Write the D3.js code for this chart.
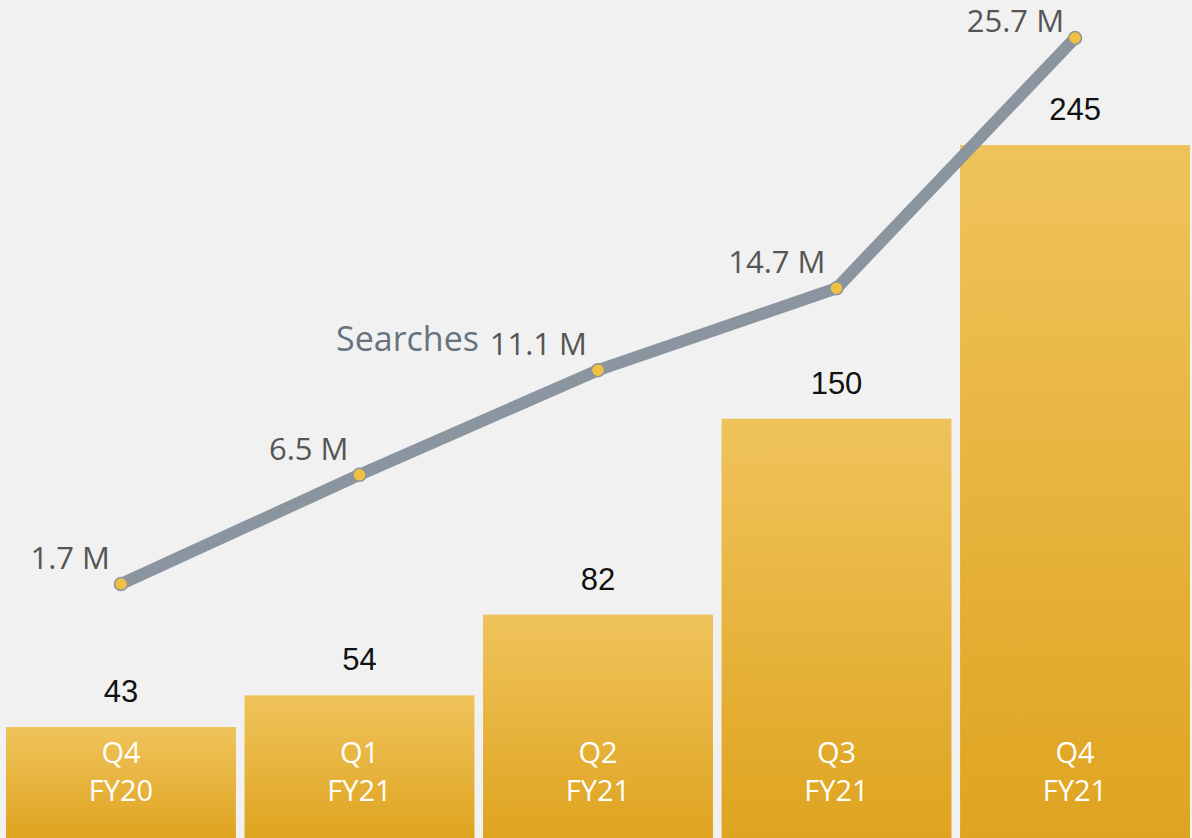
<!DOCTYPE html>
<html>
<head>
<meta charset="utf-8">
<script src="https://cdn.jsdelivr.net/npm/d3@7"></script>
<style>
  html, body { margin: 0; padding: 0; background: #f1f1f1; }
  svg { display: block; }
</style>
</head>
<body>
<div id="chart"></div>
<script>
// Quarterly results: bars = customers (count), line = searches (millions)
const quarters = ["Q4", "Q1", "Q2", "Q3", "Q4"];
const fiscalYears = ["FY20", "FY21", "FY21", "FY21", "FY21"];
const barValues = [43, 54, 82, 150, 245];
const searchValues = [1.7, 6.5, 11.1, 14.7, 25.7];
const searchLabels = ["1.7 M", "6.5 M", "11.1 M", "14.7 M", "25.7 M"];
const seriesName = "Searches";

const W = 1192, H = 838;
const svg = d3.select("#chart").append("svg")
  .attr("width", W).attr("height", H);

svg.append("rect").attr("width", W).attr("height", H).attr("fill", "#f1f1f1");

const ids = d3.range(quarters.length);
const x = d3.scaleBand().domain(ids).range([6, 1190]).paddingInner(0.036).paddingOuter(0);
// bar baseline sits just below the visible area
const yBar = d3.scaleLinear().domain([0, 250]).range([850.9, 130.65]);
const yLine = d3.scaleLinear().domain([0, 27]).range([622.7, 8.45]);

// vertical gold gradient, one per bar (bounding-box units)
const defs = svg.append("defs");
const grad = defs.append("linearGradient").attr("id", "gold")
  .attr("x1", 0).attr("y1", 0).attr("x2", 0).attr("y2", 1);
grad.append("stop").attr("offset", "0%").attr("stop-color", "#efc35b");
grad.append("stop").attr("offset", "100%").attr("stop-color", "#dfa420");

// bars run off the bottom edge
svg.append("g").selectAll("rect").data(ids).join("rect")
  .attr("x", i => x(i))
  .attr("y", i => yBar(barValues[i]))
  .attr("width", x.bandwidth())
  .attr("height", i => H - yBar(barValues[i]))
  .attr("fill", "url(#gold)");

// bar value labels
svg.append("g").selectAll("text").data(ids).join("text")
  .attr("x", i => x(i) + x.bandwidth() / 2)
  .attr("y", i => yBar(barValues[i]) - 25)
  .attr("text-anchor", "middle")
  .attr("font-family", "'Liberation Sans', Arial, sans-serif")
  .attr("font-size", 31)
  .attr("fill", "#111")
  .text(i => barValues[i]);

// category labels inside bars
const cat = svg.append("g").selectAll("text").data(ids).join("text")
  .attr("text-anchor", "middle")
  .attr("font-family", "'Open Sans', sans-serif")
  .attr("font-size", 29)
  .attr("fill", "#ffffff");
cat.append("tspan")
  .attr("x", i => x(i) + x.bandwidth() / 2)
  .attr("y", 763)
  .text(i => quarters[i]);
cat.append("tspan")
  .attr("x", i => x(i) + x.bandwidth() / 2)
  .attr("y", 801)
  .text(i => fiscalYears[i]);

// searches line
const cx = i => x(i) + x.bandwidth() / 2;
const line = d3.line().x(i => cx(i)).y(i => yLine(searchValues[i]));
svg.append("path")
  .datum(ids)
  .attr("d", line)
  .attr("fill", "none")
  .attr("stroke", "#8a959f")
  .attr("stroke-width", 12)
  .attr("stroke-linecap", "round")
  .attr("stroke-linejoin", "round");

svg.append("g").selectAll("circle").data(ids).join("circle")
  .attr("cx", cx)
  .attr("cy", i => yLine(searchValues[i]))
  .attr("r", 6.5)
  .attr("fill", "#f0c043")
  .attr("stroke", "#8a959f")
  .attr("stroke-width", 1.5);

// point labels, up-left of each point, kept inside the top edge
svg.append("g").selectAll("text").data(ids).join("text")
  .attr("x", i => cx(i) - 11)
  .attr("y", i => Math.max(yLine(searchValues[i]) - 15, 32))
  .attr("text-anchor", "end")
  .attr("font-family", "'Open Sans', sans-serif")
  .attr("font-size", 31)
  .attr("fill", "#555555")
  .text(i => searchLabels[i]);

// series name
svg.append("text")
  .attr("x", cx(2) - 262)
  .attr("y", yLine(searchValues[2]) - 19)
  .attr("text-anchor", "start")
  .attr("font-family", "'Open Sans', sans-serif")
  .attr("font-size", 34)
  .attr("fill", "#66737e")
  .text(seriesName);
</script>
</body>
</html>
